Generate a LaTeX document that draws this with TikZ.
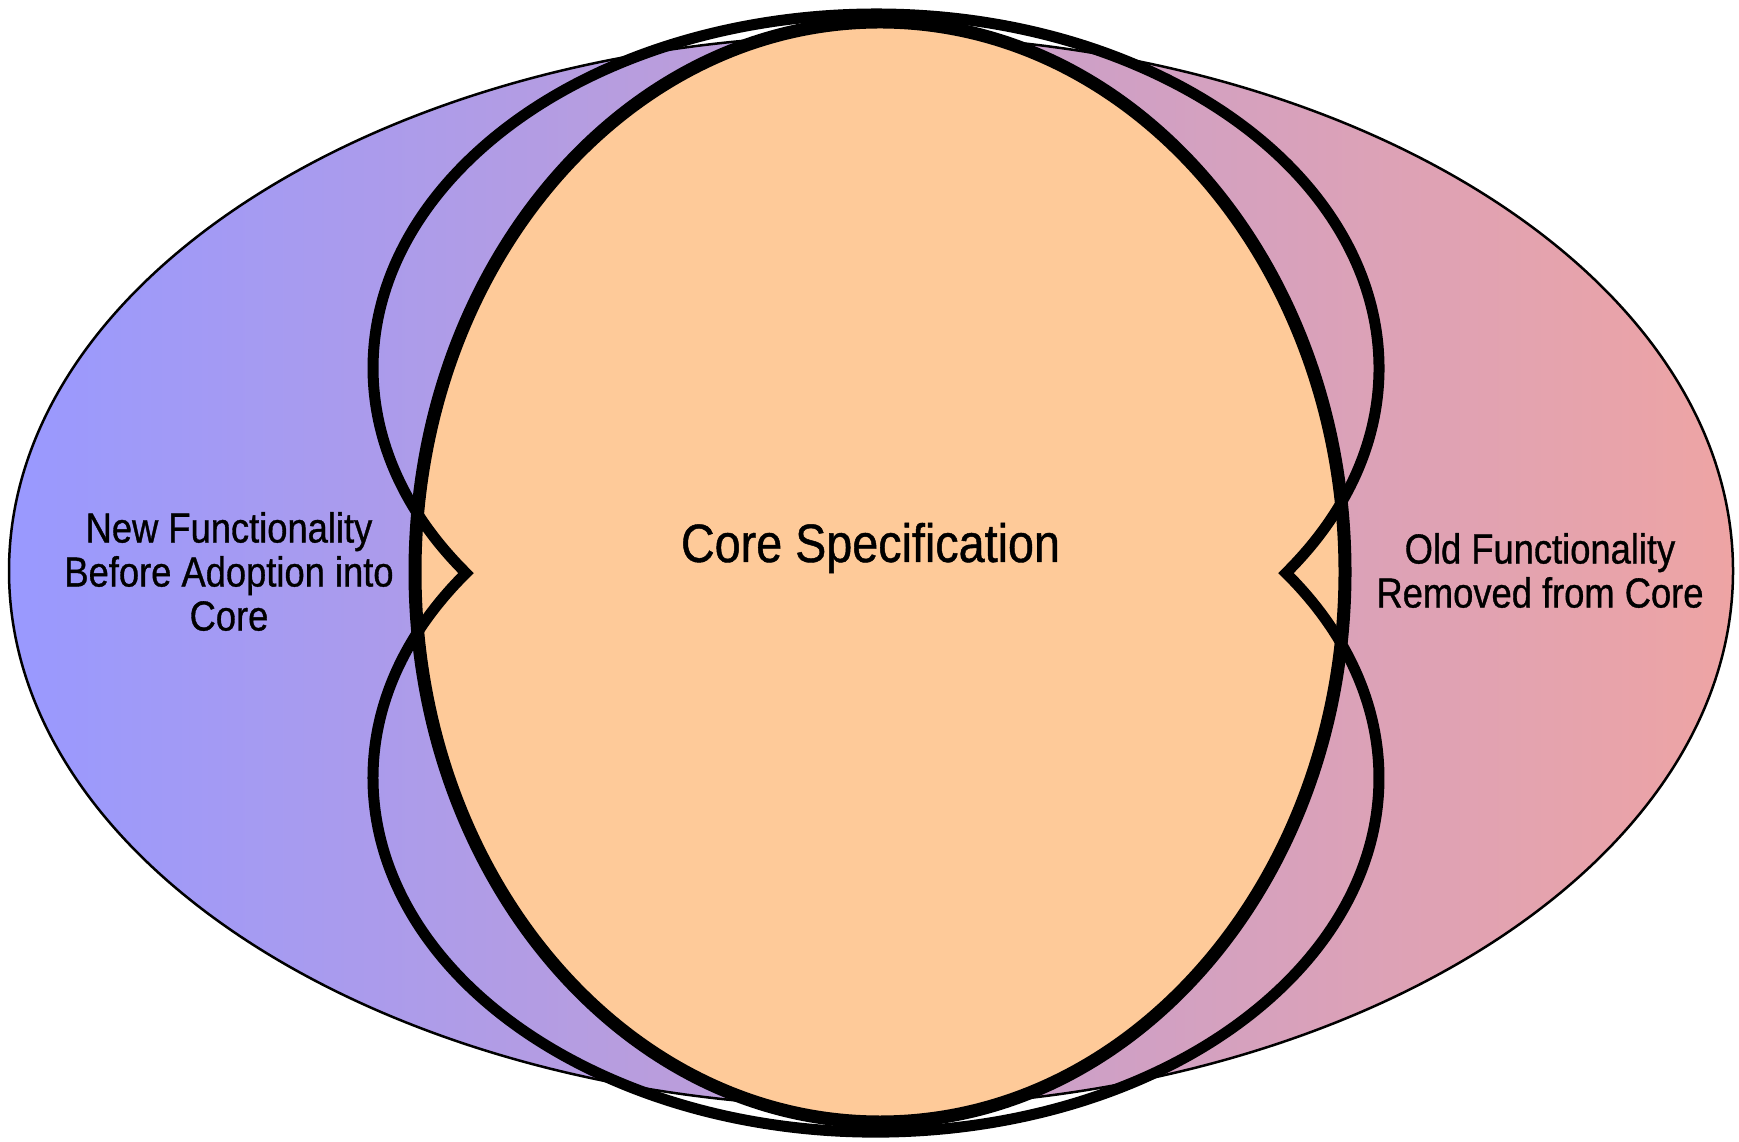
\documentclass[tikz,border=0pt]{standalone}
\usepackage{fontspec}
\newfontfamily\condfont[FakeStretch=0.865,FakeBold=0.8]{Liberation Sans}
\definecolor{leftblue}{RGB}{153,153,255}
\definecolor{rightpink}{RGB}{238,164,164}
\definecolor{coreorange}{RGB}{254,202,153}
\tikzset{
  outerbox/.style={draw=black, line width=2.5pt, left color=leftblue, right color=rightpink},
  corebox/.style={draw=black, line width=13pt, fill=coreorange},
  lobeline/.style={draw=black, line width=11pt, line join=miter},
  bigtext/.style={font=\condfont\fontsize{54}{58}\selectfont, inner sep=0pt},
  sidetext/.style={font=\condfont\fontsize{42}{44}\selectfont, align=center, inner sep=0pt}
}
\begin{document}
\begin{tikzpicture}[x=1pt,y=1pt]
\useasboundingbox (0,0) rectangle (1739,1141);
\path[outerbox] (871,570) ellipse [x radius=862pt, y radius=536pt];
\path[corebox] (880,569) ellipse [x radius=465pt, y radius=550pt];
\coordinate (upc) at (876,773);
\coordinate (loc) at (876,363);
\path[lobeline] ([shift={(-35.4:503pt and 354pt)}]upc)
  arc[start angle=-35.4, end angle=215.4, x radius=503pt, y radius=354pt]
  arc[start angle=144.6, end angle=395.4, x radius=503pt, y radius=354pt] -- cycle;
\node[bigtext, anchor=base] (core) at (870.5,579) {Core Specification};
\node[sidetext] (new) at (229,569.5) {New Functionality\\Before Adoption into\\Core};
\node[sidetext] (old) at (1540,570.5) {Old Functionality\\Removed from Core};
\end{tikzpicture}
\end{document}
